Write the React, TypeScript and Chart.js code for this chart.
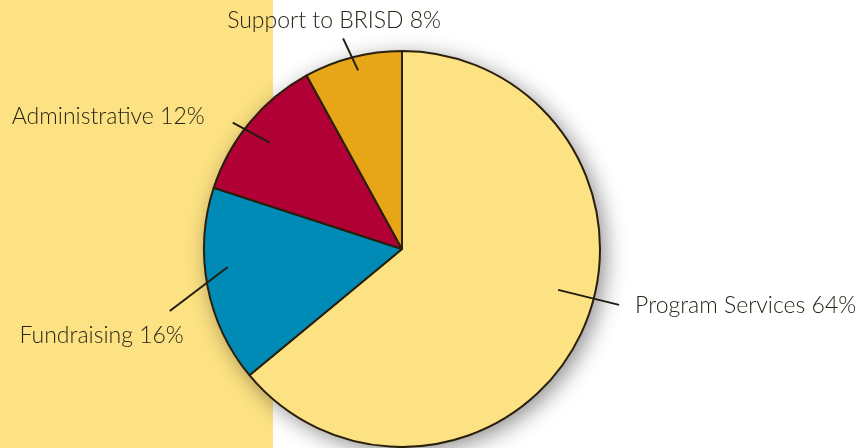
import React, { useEffect, useRef } from "react";
import { Chart, registerables } from "chart.js";

Chart.register(...registerables);

const categories = ["Program Services", "Fundraising", "Administrative", "Support to BRISD"];
const values = [64, 16, 12, 8];
const sliceColors = ["#FDE283", "#008BB6", "#B10036", "#E6A617"];
const labelTexts = ["Program Services 64%", "Fundraising 16%", "Administrative 12%", "Support to BRISD 8%"];

// label styling: edge angle (deg clockwise from top), leader line offsets, text offsets
const labelStyles = [
  { angle: 104, l0: [-36, -7], l1: [25, 8], t: [41, 16], align: "left" },
  { angle: 260.4, l0: [-37, 29], l1: [21, -15], t: [-23, 61], align: "right" },
  { angle: 307.4, l0: [-12, -6], l1: [25, 14], t: [-40, -5], align: "right" },
  { angle: 345.4, l0: [-9, -19], l1: [6, 13], t: [-18, -29], align: "center" },
];

const bgPlugin = {
  id: "bgPanel",
  beforeDraw(chart: any) {
    const ctx = chart.ctx;
    ctx.save();
    ctx.fillStyle = "#FDE283";
    ctx.fillRect(0, 0, 273, chart.height);
    ctx.restore();
  },
};

const shadowPlugin = {
  id: "pieShadow",
  beforeDatasetsDraw(chart: any) {
    const arc = chart.getDatasetMeta(0).data[0];
    if (!arc) return;
    const ctx = chart.ctx;
    ctx.save();
    ctx.shadowColor = "rgba(0,0,0,0.45)";
    ctx.shadowBlur = 22;
    ctx.shadowOffsetX = 5;
    ctx.shadowOffsetY = 5;
    ctx.fillStyle = "#FDE283";
    ctx.beginPath();
    ctx.arc(arc.x, arc.y, arc.outerRadius, 0, Math.PI * 2);
    ctx.fill();
    ctx.restore();
  },
};

const labelPlugin = {
  id: "pieLabels",
  afterDatasetsDraw(chart: any) {
    const arc = chart.getDatasetMeta(0).data[0];
    if (!arc) return;
    const ctx = chart.ctx;
    const cx = arc.x, cy = arc.y, r = arc.outerRadius;
    ctx.save();
    labelStyles.forEach((s, i) => {
      const a = (s.angle * Math.PI) / 180;
      const ex = cx + r * Math.sin(a);
      const ey = cy - r * Math.cos(a);
      ctx.strokeStyle = "#231c10";
      ctx.lineWidth = 2;
      ctx.beginPath();
      ctx.moveTo(ex + s.l0[0], ey + s.l0[1]);
      ctx.lineTo(ex + s.l1[0], ey + s.l1[1]);
      ctx.stroke();
      ctx.fillStyle = "#2a2418";
      ctx.font = "300 23px Lato";
      ctx.textAlign = s.align as CanvasTextAlign;
      ctx.textBaseline = "alphabetic";
      ctx.fillText(labelTexts[i], ex + s.t[0], ey + s.t[1]);
    });
    ctx.restore();
  },
};

export default function App() {
  const ref = useRef<HTMLCanvasElement>(null);
  useEffect(() => {
    document.body.style.margin = "0";
    const chart = new Chart(ref.current!, {
      type: "pie",
      data: {
        labels: categories,
        datasets: [
          {
            data: values,
            backgroundColor: sliceColors,
            borderColor: "#2a1f0c",
            borderWidth: 2,
          },
        ],
      },
      options: {
        animation: false,
        responsive: false,
        radius: 198,
        layout: { padding: { left: 203, right: 258, top: 50, bottom: 0 } },
        plugins: { legend: { display: false }, tooltip: { enabled: false } },
      } as any,
      plugins: [bgPlugin, shadowPlugin, labelPlugin],
    });
    return () => chart.destroy();
  }, []);
  return (
    <div style={{ position: "absolute", left: 0, top: 0, width: 859, height: 448, background: "#fff" }}>
      <canvas ref={ref} width={859} height={448} style={{ width: 859, height: 448 }} />
    </div>
  );
}
